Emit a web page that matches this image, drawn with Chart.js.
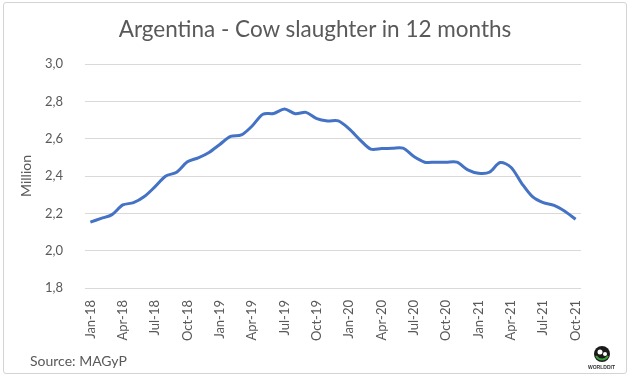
<!DOCTYPE html>
<html>
<head>
<meta charset="utf-8">
<script src="https://cdn.jsdelivr.net/npm/chart.js@4/dist/chart.umd.min.js"></script>
<style>
  html, body { margin: 0; padding: 0; background: #fff; }
  #wrap { position: relative; width: 633px; height: 379px; }
  #frame { position: absolute; left: 3px; top: 2px; width: 624px; height: 372px; border: 1px solid #d4d4d4; border-radius: 3px; box-sizing: border-box; pointer-events: none; }
  #title { position: absolute; left: 0; width: 630px; top: 15px; text-align: center; font: 22.5px Lato, "Liberation Sans", sans-serif; color: #595959; }
  #src { position: absolute; left: 30px; top: 352px; font: 14px Lato, "Liberation Sans", sans-serif; color: #595959; }
  #logo { position: absolute; left: 592px; top: 344px; width: 20px; height: 20px; }
  #logotext { position: absolute; left: 588px; top: 364px; font: bold 5px "Liberation Sans", sans-serif; color: #333; }
  canvas { position: absolute; left: 0; top: 0; }
</style>
</head>
<body>
<div id="wrap">
  <canvas id="c" width="633" height="379"></canvas>
  <div id="frame"></div>
  <div id="title"></div>
  <div id="src">Source: MAGyP</div>
  <svg id="logo" viewBox="0 0 20 20"><circle cx="10" cy="10" r="8" fill="#1a1a1a"/><path d="M4 12 A7 7 0 0 0 16 12" stroke="#3a9a3a" stroke-width="2" fill="none"/><circle cx="8" cy="8" r="2.5" fill="#fff"/><circle cx="13" cy="10" r="2" fill="#fff"/></svg>
  <div id="logotext">WORLDDIT</div>
</div>
<script>
const categories = [
  "Jan-18","Feb-18","Mar-18","Apr-18","May-18","Jun-18","Jul-18","Aug-18","Sep-18","Oct-18","Nov-18","Dec-18",
  "Jan-19","Feb-19","Mar-19","Apr-19","May-19","Jun-19","Jul-19","Aug-19","Sep-19","Oct-19","Nov-19","Dec-19",
  "Jan-20","Feb-20","Mar-20","Apr-20","May-20","Jun-20","Jul-20","Aug-20","Sep-20","Oct-20","Nov-20","Dec-20",
  "Jan-21","Feb-21","Mar-21","Apr-21","May-21","Jun-21","Jul-21","Aug-21","Sep-21","Oct-21"
];
const slaughterMillion = [
  2.153, 2.173, 2.193, 2.245, 2.257, 2.290, 2.343, 2.400, 2.420, 2.476, 2.497, 2.526,
  2.569, 2.612, 2.620, 2.668, 2.731, 2.735, 2.759, 2.734, 2.741, 2.707, 2.695, 2.695,
  2.652, 2.594, 2.544, 2.547, 2.549, 2.549, 2.504, 2.474, 2.474, 2.474, 2.474, 2.433,
  2.415, 2.420, 2.472, 2.447, 2.361, 2.289, 2.257, 2.243, 2.211, 2.168
];
const yTicks = { min: 1.8, max: 3.0, step: 0.2 };
const titleText = "Argentina - Cow slaughter in 12 months";
const yTitle = "Million";

document.getElementById("title").textContent = titleText;

const FONT = "Lato, 'Liberation Sans', sans-serif";
const grey = "#595959";

new Chart(document.getElementById("c"), {
  type: "line",
  data: {
    labels: categories,
    datasets: [{
      data: slaughterMillion,
      borderColor: "#4472C4",
      borderWidth: 3,
      pointRadius: 0,
      tension: 0.3,
      fill: false
    }]
  },
  options: {
    responsive: false,
    animation: false,
    layout: { padding: { left: 18, right: 52, top: 64, bottom: 34 } },
    plugins: {
      legend: { display: false },
      tooltip: { enabled: false },
      title: { display: false }
    },
    scales: {
      x: {
        offset: true,
        grid: { display: false },
        border: { display: false },
        ticks: {
          autoSkip: false,
          maxRotation: 90,
          minRotation: 90,
          color: grey,
          font: { family: FONT, size: 13 },
          padding: 4,
          callback: function (v, i) { return i % 3 === 0 ? categories[i] : null; }
        },
        afterFit: function (s) { s.height = 57; }
      },
      y: {
        min: yTicks.min,
        max: yTicks.max,
        grid: { color: "#d9d9d9", lineWidth: 1, drawTicks: false },
        border: { display: false },
        ticks: {
          stepSize: yTicks.step,
          color: grey,
          padding: 22,
          font: { family: FONT, size: 13 },
          callback: function (v) { return v.toFixed(1).replace(".", ","); }
        },
        title: {
          display: true,
          text: yTitle,
          color: grey,
          font: { family: FONT, size: 14 },
          padding: 0
        },
        afterFit: function (s) { s.width = 67; }
      }
    }
  }
});
</script>
</body>
</html>
